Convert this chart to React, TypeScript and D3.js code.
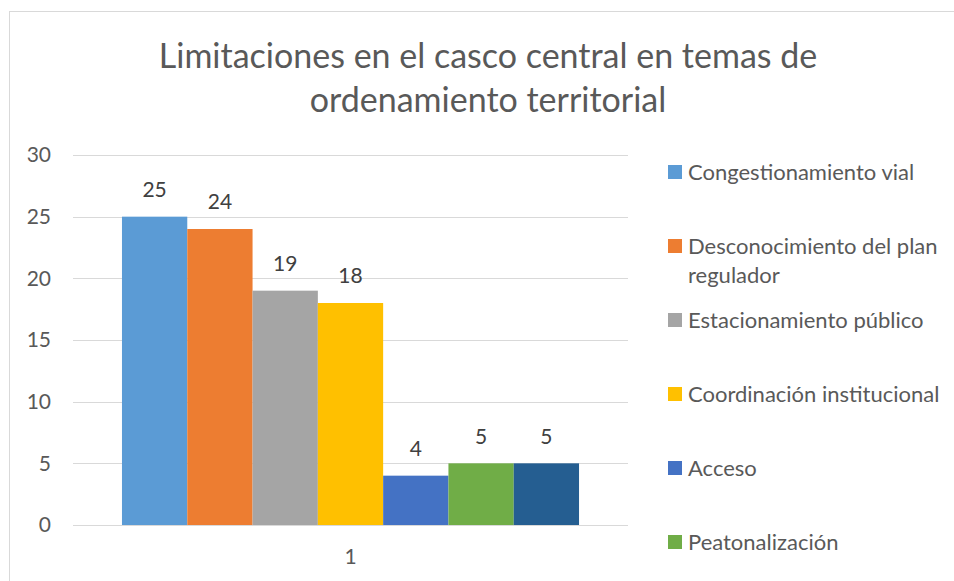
import React, { useRef, useEffect } from 'react'
import * as d3 from 'd3'

const title = ['Limitaciones en el casco central en temas de', 'ordenamiento territorial']
const categories = ['1']
const seriesNames = [
  'Congestionamiento vial',
  'Desconocimiento del plan regulador',
  'Estacionamiento público',
  'Coordinación institucional',
  'Acceso',
  'Peatonalización',
  'Otros'
]
const seriesValues = [25, 24, 19, 18, 4, 5, 5]
const seriesColors = ['#5B9BD5', '#ED7D31', '#A5A5A5', '#FFC000', '#4472C4', '#70AD47', '#255E91']
const yTicks = [0, 5, 10, 15, 20, 25, 30]

const W = 954
const H = 581
const FONT = 'Lato, "Open Sans", sans-serif'
const TXT = '#595959'

const App: React.FC = () => {
  const svgRef = useRef<SVGSVGElement>(null)

  useEffect(() => {
    if (!svgRef.current) return
    const svg = d3.select(svgRef.current)
    svg.selectAll('*').remove()

    // marco del gráfico
    svg.append('rect')
      .attr('x', 9.5).attr('y', 11.5)
      .attr('width', W + 20).attr('height', H + 20)
      .attr('fill', '#fff').attr('stroke', '#D9D9D9')

    // título
    svg.append('g').selectAll('text')
      .data(title)
      .enter().append('text')
      .text(d => d)
      .attr('x', 488)
      .attr('y', (d, i) => 68 + i * 44)
      .attr('text-anchor', 'middle')
      .attr('font-family', FONT)
      .attr('font-size', 34)
      .attr('fill', TXT)

    const x0 = d3.scaleBand().domain(categories).range([73, 628]).padding(0)
    const x1 = d3.scaleBand()
      .domain(seriesNames)
      .range([0, x0.bandwidth()])
      .paddingInner(0)
      .paddingOuter(0.75)
    const y = d3.scaleLinear().domain([0, 30]).range([525, 155])

    // líneas de cuadrícula
    svg.append('g').selectAll('line')
      .data(yTicks)
      .enter().append('line')
      .attr('x1', 73).attr('x2', 628)
      .attr('y1', d => Math.round(y(d)) + 0.5)
      .attr('y2', d => Math.round(y(d)) + 0.5)
      .attr('stroke', '#D9D9D9')
      .attr('stroke-width', 1)

    // etiquetas del eje Y
    svg.append('g').selectAll('text')
      .data(yTicks)
      .enter().append('text')
      .text(d => d)
      .attr('x', 51)
      .attr('y', d => y(d))
      .attr('dy', '0.35em')
      .attr('text-anchor', 'end')
      .attr('font-family', FONT)
      .attr('font-size', 21)
      .attr('fill', TXT)

    // barras
    const group = svg.append('g')
      .selectAll('g')
      .data(categories)
      .enter().append('g')
      .attr('transform', d => `translate(${x0(d)},0)`)

    group.selectAll('rect')
      .data(seriesNames.map((name, i) => ({ name, value: seriesValues[i], color: seriesColors[i] })))
      .enter().append('rect')
      .attr('x', d => x1(d.name)!)
      .attr('y', d => y(d.value))
      .attr('width', x1.bandwidth())
      .attr('height', d => y(0) - y(d.value))
      .attr('fill', d => d.color)

    // etiquetas de datos
    group.selectAll('text')
      .data(seriesNames.map((name, i) => ({ name, value: seriesValues[i] })))
      .enter().append('text')
      .text(d => d.value)
      .attr('x', d => x1(d.name)! + x1.bandwidth() / 2)
      .attr('y', d => y(d.value) - 27)
      .attr('dy', '0.35em')
      .attr('text-anchor', 'middle')
      .attr('font-family', FONT)
      .attr('font-size', 21)
      .attr('fill', '#404040')

    // etiqueta del eje X
    svg.append('g').selectAll('text')
      .data(categories)
      .enter().append('text')
      .text(d => d)
      .attr('x', d => x0(d)! + x0.bandwidth() / 2)
      .attr('y', 557)
      .attr('dy', '0.35em')
      .attr('text-anchor', 'middle')
      .attr('font-family', FONT)
      .attr('font-size', 21)
      .attr('fill', TXT)

    // leyenda (la última entrada queda fuera del área visible)
    const legendY = d3.scaleLinear().domain([0, 1]).range([172, 246])
    const visible = seriesNames.filter((d, i) => legendY(i) + 14 < H)
    const legend = svg.append('g')
      .selectAll('g')
      .data(visible)
      .enter().append('g')
      .attr('transform', (d, i) => `translate(668,${legendY(i)})`)

    legend.append('rect')
      .attr('x', 0).attr('y', -7)
      .attr('width', 14).attr('height', 14)
      .attr('fill', (d, i) => seriesColors[i])

    const wrap = (name: string) =>
      name === 'Desconocimiento del plan regulador' ? ['Desconocimiento del plan', 'regulador'] : [name]

    legend.append('text')
      .attr('x', 20)
      .attr('y', 0)
      .attr('font-family', FONT)
      .attr('font-size', 22)
      .attr('fill', TXT)
      .selectAll('tspan')
      .data(d => wrap(d))
      .enter().append('tspan')
      .attr('x', 20)
      .attr('y', (d, i) => i * 29)
      .attr('dy', '0.35em')
      .text(d => d)
  }, [])

  return (
    <svg
      ref={svgRef}
      width={W}
      height={H}
      style={{ position: 'absolute', left: 0, top: 0, background: '#fff' }}
    />
  )
}

export default App
